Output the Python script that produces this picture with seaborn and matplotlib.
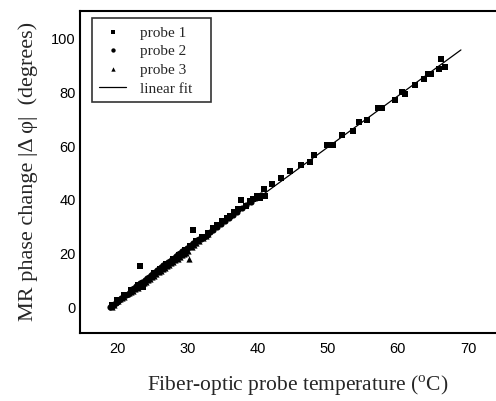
import matplotlib
matplotlib.use("Agg")
import matplotlib.pyplot as plt
import seaborn as sns
from matplotlib.ticker import MultipleLocator

# -----------------------------
# Data
# -----------------------------
probe1_x = [19.2, 20.0, 21.0, 22.0, 22.9, 23.3, 23.7, 24.5, 25.3, 26.1, 27.0, 27.9,
            28.8, 29.6, 30.4, 30.8, 31.3, 32.1, 33.0, 33.6, 34.3, 35.0, 35.6, 36.1,
            36.6, 37.2, 37.7, 38.3, 38.9, 39.4, 39.9, 40.4, 40.9, 41.1, 42.1, 43.4,
            44.6, 46.2, 47.5, 48.0, 49.9, 50.8, 52.0, 53.6, 54.5, 55.6, 57.2, 57.7,
            59.6, 60.6, 61.0, 62.5, 63.7, 64.3, 64.8, 65.9, 66.2, 66.7]
probe1_y = [0.3, 2.2, 4.2, 6.0, 7.9, 14.8, 7.0, 10.1, 12.2, 13.9, 15.6, 17.5,
            19.2, 20.8, 22.4, 28.2, 24.3, 25.9, 27.4, 29.0, 30.2, 31.9, 32.7, 33.5,
            35.0, 36.1, 39.5, 37.5, 39.1, 40.0, 41.1, 40.2, 43.6, 41.0, 45.4, 47.6,
            50.3, 52.5, 53.8, 56.2, 60.0, 60.2, 63.7, 65.2, 68.7, 69.5, 73.7, 73.7,
            76.7, 80.0, 79.2, 82.3, 84.7, 86.6, 86.6, 88.3, 92.0, 89.3]

probe2_x = [19.0, 19.2, 19.4, 19.6, 19.8, 20.0, 20.3, 20.6, 20.9, 21.2, 21.5, 21.8,
            22.1, 22.4, 22.7, 23.0, 23.3, 23.6, 23.9, 24.2, 24.5, 24.8, 25.1, 25.4,
            25.7, 26.0, 26.3, 26.6, 26.9, 27.2, 27.5, 27.8, 28.1, 28.4, 28.7, 29.0,
            29.3, 29.6, 29.9, 30.2, 30.5, 30.8, 31.1, 31.4, 31.7, 32.0, 32.4, 32.8,
            33.2, 33.7, 34.2, 34.8, 35.3, 35.9, 36.5, 37.1, 37.8, 38.4, 39.1, 39.8, 40.5]
probe2_y = [-0.3, 0.2, 0.5, 0.9, 1.3, 1.7, 2.3, 2.9, 3.5, 4.1, 4.6, 5.2,
            6.3, 6.9, 7.4, 7.9, 8.5, 9.1, 9.8, 10.4, 11.0, 11.6, 12.2, 12.8,
            13.4, 14.0, 14.6, 15.2, 15.8, 16.4, 16.9, 17.5, 18.1, 18.7, 19.3, 19.9,
            20.4, 21.0, 21.6, 22.2, 22.8, 23.4, 24.0, 24.6, 25.2, 25.1, 25.9, 26.7,
            27.6, 28.4, 29.5, 30.6, 31.6, 32.8, 33.9, 35.0, 36.4, 37.6, 38.9, 40.2, 41.5]

probe3_x = [19.1, 19.3, 19.5, 19.7, 20.1, 20.4, 20.7, 21.0, 21.4, 21.7, 22.0, 22.3,
            22.6, 22.9, 23.2, 23.5, 23.8, 24.1, 24.4, 24.7, 25.0, 25.3, 25.6, 25.9,
            26.2, 26.5, 26.8, 27.1, 27.4, 27.7, 28.0, 28.3, 28.6, 28.9, 29.2, 29.5,
            29.8, 30.1, 30.3, 30.6, 31.0, 31.3, 31.6, 32.2, 32.6, 33.0]
probe3_y = [0.4, -0.2, 0.6, 1.4, 2.1, 2.5, 3.2, 3.6, 4.5, 5.0, 5.1, 5.7,
            6.3, 6.8, 7.4, 8.0, 8.6, 9.1, 9.7, 10.3, 10.9, 11.4, 12.0, 12.6,
            13.1, 13.7, 14.3, 14.9, 15.4, 16.0, 16.6, 17.2, 17.7, 18.3, 18.9, 19.5,
            20.0, 20.6, 17.6, 22.1, 22.9, 23.6, 24.2, 25.4, 26.2, 27.0]

# linear fit
fit_slope = 1.91
fit_intercept = -36.3
fit_x = [19.0, 69.0]
fit_y = [fit_slope * t + fit_intercept for t in fit_x]

# -----------------------------
# Style
# -----------------------------
sns.set_style("white")
plt.rcParams["font.family"] = ["Liberation Serif", "DejaVu Serif"]
plt.rcParams["mathtext.fontset"] = "custom"
plt.rcParams["mathtext.rm"] = "Liberation Serif"

fig = plt.figure(figsize=(4.96, 4.02), dpi=100)
ax = fig.add_axes([80 / 496, 68 / 402, 416 / 496, 322 / 402])

sns.scatterplot(x=probe1_x, y=probe1_y, marker="s", color="black", s=15,
                linewidth=0, label="probe 1", ax=ax)
sns.scatterplot(x=probe2_x, y=probe2_y, marker="o", color="black", s=20,
                linewidth=0, label="probe 2", ax=ax)
sns.scatterplot(x=probe3_x, y=probe3_y, marker="^", color="black", s=20,
                linewidth=0, label="probe 3", ax=ax)
sns.lineplot(x=fit_x, y=fit_y, color="black", linewidth=0.9,
             label="linear fit\u00a0\u00a0\u00a0", ax=ax)

ax.set_xlim(14.7, 74.0)
ax.set_ylim(-10, 110)
ax.xaxis.set_major_locator(MultipleLocator(10))
ax.xaxis.set_minor_locator(MultipleLocator(5))
ax.yaxis.set_major_locator(MultipleLocator(20))
ax.yaxis.set_minor_locator(MultipleLocator(10))
ax.set_xticks([20, 30, 40, 50, 60, 70])

ax.tick_params(axis="both", which="major", direction="in", length=5, width=1.2,
               pad=6, labelsize=10.5, colors="black")
ax.tick_params(axis="y", which="major", pad=3)
ax.tick_params(axis="both", which="minor", direction="in", length=3, width=1.0)
for lab in ax.get_xticklabels() + ax.get_yticklabels():
    lab.set_fontfamily("Liberation Sans")

for side in ["left", "bottom", "top"]:
    ax.spines[side].set_color("black")
    ax.spines[side].set_linewidth(1.5)
ax.spines["right"].set_visible(False)

ax.set_xlabel("Fiber-optic probe temperature ($^{\\rm o}$C)", fontsize=15.5)
ax.set_ylabel("MR phase change |Δ φ|  (degrees)", fontsize=16)
ax.xaxis.set_label_coords(0.524, -0.124)
ax.yaxis.set_label_coords(-0.101, 0.506)

leg = ax.legend(loc="upper left", bbox_to_anchor=(0.029, 0.978), borderaxespad=0,
                frameon=True, fancybox=False, edgecolor="black", fontsize=11,
                handlelength=1.8, handletextpad=0.9, labelspacing=0.33,
                markerscale=0.7, borderpad=0.45)
leg.get_frame().set_linewidth(1.2)

fig.savefig("out.png", dpi=100)
